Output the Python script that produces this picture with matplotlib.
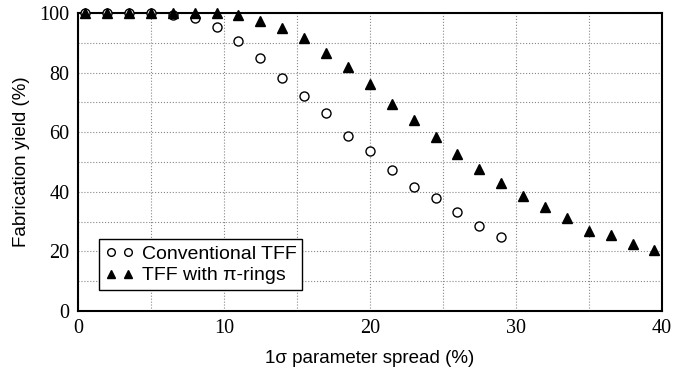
import matplotlib
matplotlib.use("Agg")
import matplotlib.pyplot as plt
from matplotlib.ticker import MultipleLocator

# 1-sigma parameter spread (%)
spread_conv = [0.5, 2, 3.5, 5, 6.5, 8, 9.5, 11, 12.5, 14, 15.5, 17, 18.5, 20,
               21.5, 23, 24.5, 26, 27.5, 29]
yield_conv = [100, 100, 100, 100, 99.3, 98.2, 95.2, 90.6, 84.8, 78, 72, 66.4,
              58.8, 53.7, 47.3, 41.5, 37.8, 33.2, 28.5, 24.9]

spread_pi = [0.5, 2, 3.5, 5, 6.5, 8, 9.5, 11, 12.5, 14, 15.5, 17, 18.5, 20,
             21.5, 23, 24.5, 26, 27.5, 29, 30.5, 32, 33.5, 35, 36.5, 38, 39.5]
yield_pi = [100, 100, 100, 100, 100, 100, 100, 99.3, 97.4, 94.9, 91.7, 86.6,
            82, 76, 69.5, 64, 58.4, 52.7, 47.6, 43, 38.6, 35, 31.3, 27, 25.5,
            22.5, 20.5]

fig = plt.figure(figsize=(6.9, 3.78), dpi=100)
ax = fig.add_axes([0.113, 0.177, 0.846, 0.789])

ax.plot(spread_conv, yield_conv, 'o', ls='none', mfc='white', mec='black',
        mew=1.0, ms=6.5, clip_on=False, zorder=3, label='Conventional TFF')
ax.plot(spread_pi, yield_pi, '^', ls='none', color='black', ms=6.5,
        clip_on=False, zorder=3, label='TFF with \u03c0-rings')

ax.set_xlim(0, 40)
ax.set_ylim(0, 100)
ax.xaxis.set_major_locator(MultipleLocator(10))
ax.xaxis.set_minor_locator(MultipleLocator(5))
ax.yaxis.set_major_locator(MultipleLocator(20))
ax.yaxis.set_minor_locator(MultipleLocator(10))
ax.grid(True, which='both', color='#888888', ls=':', lw=0.8)
ax.tick_params(which='both', length=0, pad=6)

for lab in ax.get_xticklabels() + ax.get_yticklabels():
    lab.set_fontfamily('Liberation Serif')
    lab.set_fontsize(14.5)

for sp in ax.spines.values():
    sp.set_linewidth(1.5)
    sp.set_color('black')

ax.set_xlabel('1\u03c3 parameter spread (%)', family='Liberation Sans',
              fontsize=13.5, labelpad=8)
ax.set_ylabel('Fabrication yield (%)', family='Liberation Sans',
              fontsize=13.5, labelpad=7)

leg = ax.legend(loc='lower left', bbox_to_anchor=(0.036, 0.07), numpoints=2,
                prop={'family': 'Liberation Sans', 'size': 14},
                frameon=True, fancybox=False, borderaxespad=0,
                handlelength=1.5, handletextpad=0.4, borderpad=0.3,
                labelspacing=0.2, markerscale=0.85)
leg.get_frame().set_edgecolor('black')
leg.get_frame().set_linewidth(1.0)
leg.get_frame().set_alpha(1)

fig.savefig('out.png', dpi=100)
